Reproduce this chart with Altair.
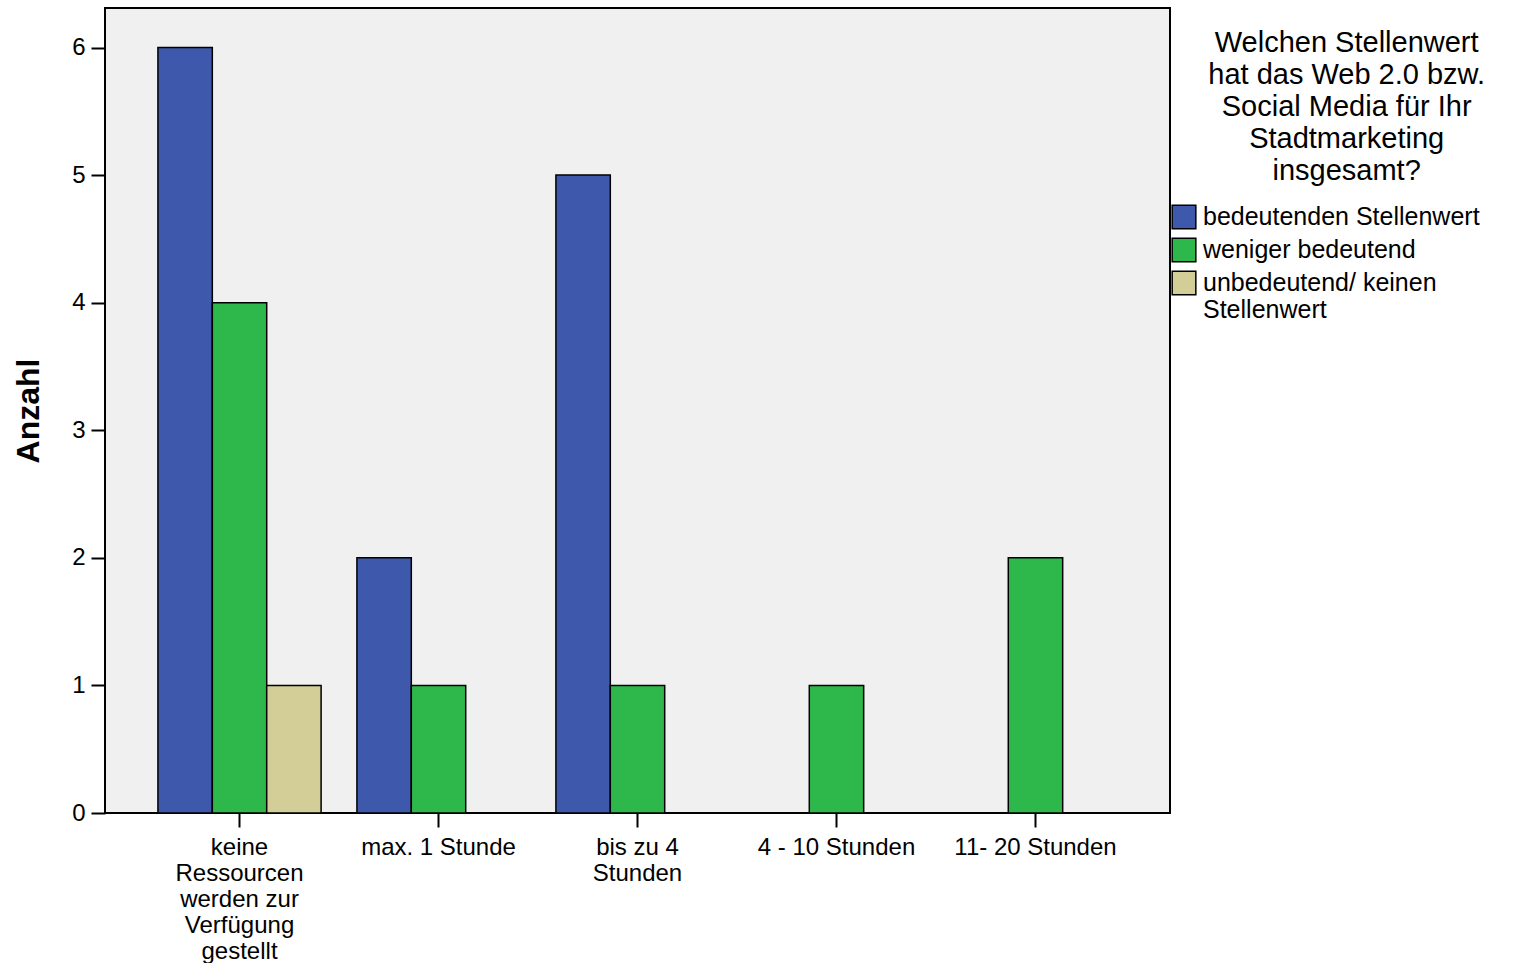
import altair as alt
import pandas as pd

# Time categories (line breaks mark how the axis labels wrap)
categories = [
    "keine\nRessourcen\nwerden zur\nVerfügung\ngestellt",
    "max. 1 Stunde",
    "bis zu 4\nStunden",
    "4 - 10 Stunden",
    "11- 20 Stunden",
]
series = [
    "bedeutenden Stellenwert",
    "weniger bedeutend",
    "unbedeutend/ keinen\nStellenwert",
]
colors = ["#3e58ac", "#2eb84b", "#d3ce97"]

# Counts per category, one list per series
bedeutend = [6, 2, 5, 0, 0]
weniger = [4, 1, 1, 1, 2]
unbedeutend = [1, 0, 0, 0, 0]

rows = []
for s, vals in zip(series, [bedeutend, weniger, unbedeutend]):
    for c, v in zip(categories, vals):
        if v > 0:
            rows.append({"Kategorie": c, "Stellenwert": s, "Anzahl": v})
df = pd.DataFrame(rows)

# Heading that sits above the legend entries
legend_title = [
    "Welchen Stellenwert",
    "hat das Web 2.0 bzw.",
    "Social Media für Ihr",
    "Stadtmarketing",
    "insgesamt?",
]

chart = alt.Chart(
    df,
    title=alt.TitleParams(
        text=legend_title,
        anchor="start",
        align="center",
        orient="top",
        dx=1334,
        dy=178,
        offset=0,
        fontSize=29,
        fontWeight="normal",
        lineHeight=32,
        color="black",
    ),
).mark_bar(
    stroke="black", strokeWidth=1.5
).encode(
    x=alt.X(
        "Kategorie:N",
        sort=categories,
        scale=alt.Scale(paddingInner=0.18, paddingOuter=0.266),
        axis=alt.Axis(
            title=None,
            labelAngle=0,
            labelExpr="split(datum.label, '\\n')",
            labelFontSize=24,
            labelLineHeight=26,
            labelColor="black",
            labelPadding=8,
            tickSize=14,
            tickWidth=2,
            tickColor="black",
            domain=False,
            labelAlign="center",
        ),
    ),
    xOffset=alt.XOffset(
        "Stellenwert:N",
        sort=series,
        scale=alt.Scale(domain=series, paddingInner=0, paddingOuter=0),
    ),
    y=alt.Y(
        "Anzahl:Q",
        scale=alt.Scale(domain=[0, 6.31], nice=False),
        axis=alt.Axis(
            title="Anzahl",
            titleFontSize=32,
            titleFontWeight="bold",
            titleColor="black",
            titlePadding=26,
            values=[0, 1, 2, 3, 4, 5, 6],
            format="d",
            labelFontSize=24,
            labelColor="black",
            labelPadding=6,
            tickSize=14,
            tickWidth=2,
            tickColor="black",
            domain=False,
            grid=False,
        ),
    ),
    color=alt.Color(
        "Stellenwert:N",
        sort=series,
        scale=alt.Scale(domain=series, range=colors),
        legend=alt.Legend(
            title=None,
            labelExpr="split(datum.label, '\\n')",
            labelFontSize=25,
            labelColor="black",
            labelOffset=6,
            labelLimit=400,
            symbolType="square",
            symbolSize=560,
            symbolStrokeColor="black",
            symbolStrokeWidth=1.5,
            symbolOpacity=1,
            rowPadding=3,
            orient="none",
            legendX=1066,
            legendY=196,
            padding=0,
        ),
    ),
).properties(
    width=1065,
    height=805,
    autosize=alt.AutoSizeParams(type="none"),
    padding={"left": 105, "top": 8, "right": 349, "bottom": 150},
).configure(
    font="Liberation Sans",
).configure_view(
    fill="#f0f0f0",
    stroke="black",
    strokeWidth=2,
)

chart.save("out.html", embed_options={"renderer": "svg", "actions": False})
